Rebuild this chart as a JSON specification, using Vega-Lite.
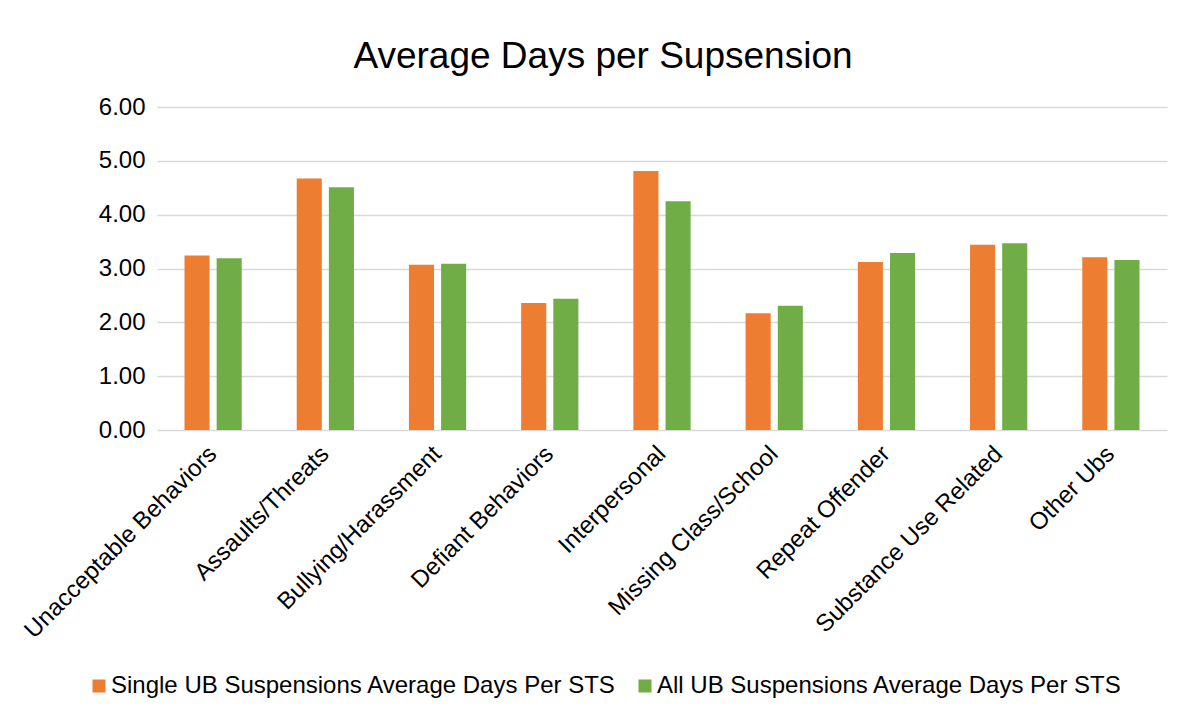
{
  "$schema": "https://vega.github.io/schema/vega-lite/v6.json",
  "width": 1010,
  "height": 323,
  "autosize": {"type": "none"},
  "padding": {"left": 157, "top": 107, "right": 17, "bottom": 287},
  "background": "white",
  "title": {
    "text": "Average Days per Supsension",
    "fontSize": 37,
    "font": "Liberation Sans",
    "fontWeight": "normal",
    "color": "#000000",
    "anchor": "middle",
    "offset": 19,
    "dx": -59
  },
  "data": {
    "values": [
      {"category": "Unacceptable Behaviors", "series": "Single UB Suspensions Average Days Per STS", "value": 3.24},
      {"category": "Unacceptable Behaviors", "series": "All UB Suspensions Average Days Per STS", "value": 3.19},
      {"category": "Assaults/Threats", "series": "Single UB Suspensions Average Days Per STS", "value": 4.67},
      {"category": "Assaults/Threats", "series": "All UB Suspensions Average Days Per STS", "value": 4.51},
      {"category": "Bullying/Harassment", "series": "Single UB Suspensions Average Days Per STS", "value": 3.07},
      {"category": "Bullying/Harassment", "series": "All UB Suspensions Average Days Per STS", "value": 3.09},
      {"category": "Defiant Behaviors", "series": "Single UB Suspensions Average Days Per STS", "value": 2.36},
      {"category": "Defiant Behaviors", "series": "All UB Suspensions Average Days Per STS", "value": 2.44},
      {"category": "Interpersonal", "series": "Single UB Suspensions Average Days Per STS", "value": 4.81},
      {"category": "Interpersonal", "series": "All UB Suspensions Average Days Per STS", "value": 4.25},
      {"category": "Missing Class/School", "series": "Single UB Suspensions Average Days Per STS", "value": 2.17},
      {"category": "Missing Class/School", "series": "All UB Suspensions Average Days Per STS", "value": 2.31},
      {"category": "Repeat Offender", "series": "Single UB Suspensions Average Days Per STS", "value": 3.12},
      {"category": "Repeat Offender", "series": "All UB Suspensions Average Days Per STS", "value": 3.29},
      {"category": "Substance Use Related", "series": "Single UB Suspensions Average Days Per STS", "value": 3.44},
      {"category": "Substance Use Related", "series": "All UB Suspensions Average Days Per STS", "value": 3.47},
      {"category": "Other Ubs", "series": "Single UB Suspensions Average Days Per STS", "value": 3.21},
      {"category": "Other Ubs", "series": "All UB Suspensions Average Days Per STS", "value": 3.16}
    ]
  },
  "mark": {"type": "bar"},
  "encoding": {
    "x": {
      "field": "category",
      "type": "nominal",
      "sort": null,
      "title": null,
      "scale": {"paddingInner": 0.49, "paddingOuter": 0.245},
      "axis": {
        "labelAngle": -45,
        "labelAlign": "right",
        "labelBaseline": "middle",
        "labelFontSize": 24,
        "labelFont": "Liberation Sans",
        "labelColor": "#000000",
        "labelPadding": 20,
        "labelLimit": 500,
        "labelOverlap": false,
        "ticks": false,
        "domain": false,
        "grid": false
      }
    },
    "xOffset": {
      "field": "series",
      "type": "nominal",
      "sort": ["Single UB Suspensions Average Days Per STS", "All UB Suspensions Average Days Per STS"],
      "scale": {"paddingInner": 0.22}
    },
    "y": {
      "field": "value",
      "type": "quantitative",
      "title": null,
      "scale": {"domain": [0, 6], "nice": false},
      "axis": {
        "values": [0, 1, 2, 3, 4, 5, 6],
        "format": ".2f",
        "labelFontSize": 24,
        "labelFont": "Liberation Sans",
        "labelColor": "#000000",
        "labelPadding": 12,
        "ticks": false,
        "domain": false,
        "grid": true,
        "gridColor": "#d9d9d9",
        "gridWidth": 1.5
      }
    },
    "color": {
      "field": "series",
      "type": "nominal",
      "sort": ["Single UB Suspensions Average Days Per STS", "All UB Suspensions Average Days Per STS"],
      "scale": {
        "domain": ["Single UB Suspensions Average Days Per STS", "All UB Suspensions Average Days Per STS"],
        "range": ["#ED7D31", "#70AD47"]
      },
      "legend": {
        "title": null,
        "orient": "none",
        "legendX": -70,
        "legendY": 567,
        "direction": "horizontal",
        "symbolType": "square",
        "symbolSize": 169,
        "symbolStrokeWidth": 0,
        "labelFontSize": 24,
        "labelFont": "Liberation Sans",
        "labelColor": "#000000",
        "labelLimit": 700,
        "labelOffset": 0,
        "columnPadding": 16
      }
    }
  },
  "config": {
    "view": {"stroke": null},
    "font": "Liberation Sans"
  }
}
